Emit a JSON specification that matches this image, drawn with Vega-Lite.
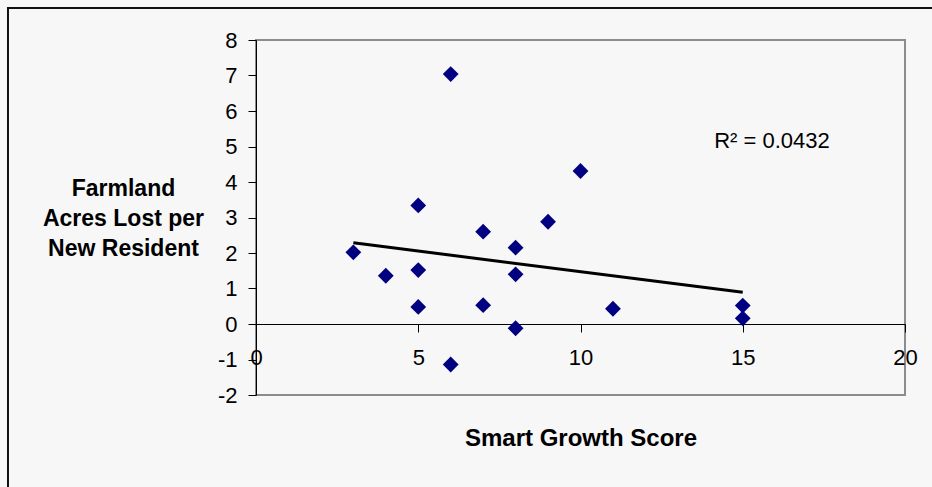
{
  "$schema": "https://vega.github.io/schema/vega-lite/v6.json",
  "width": 649,
  "height": 355,
  "autosize": {"type": "none"},
  "padding": {"left": 256, "top": 40, "right": 27, "bottom": 92},
  "background": "#f7f7f7",
  "config": {
    "view": {"stroke": "#8c8c8c", "strokeWidth": 2},
    "font": "Liberation Sans"
  },
  "datasets": {
    "pts": [
      {"score": 3, "acres": 2.02},
      {"score": 4, "acres": 1.36},
      {"score": 5, "acres": 3.34},
      {"score": 5, "acres": 1.52},
      {"score": 5, "acres": 0.48},
      {"score": 6, "acres": 7.04},
      {"score": 6, "acres": -1.14},
      {"score": 7, "acres": 2.6},
      {"score": 7, "acres": 0.53},
      {"score": 8, "acres": 2.15},
      {"score": 8, "acres": 1.4},
      {"score": 8, "acres": -0.12},
      {"score": 9, "acres": 2.88},
      {"score": 10, "acres": 4.31},
      {"score": 11, "acres": 0.43},
      {"score": 15, "acres": 0.52},
      {"score": 15, "acres": 0.16}
    ],
    "note": [{"label": "R² = 0.0432"}]
  },
  "layer": [
    {
      "data": {"name": "pts"},
      "mark": {"type": "point", "shape": "diamond", "filled": true, "color": "#000080", "size": 250, "opacity": 1},
      "encoding": {
        "x": {
          "field": "score",
          "type": "quantitative",
          "scale": {"domain": [0, 20], "nice": false},
          "axis": {
            "values": [0, 5, 10, 15, 20],
            "offset": -71,
            "grid": false,
            "domainColor": "#000000",
            "domainWidth": 1,
            "tickColor": "#000000",
            "tickSize": 8,
            "labelFontSize": 22,
            "labelColor": "#000000",
            "labelPadding": 15,
            "labelFlush": false,
            "labelOverlap": false,
            "labelExpr": "'' + datum.value",
            "title": "Smart Growth Score",
            "titleFontSize": 24,
            "titleFontWeight": "bold",
            "titleColor": "#000000",
            "titleBaseline": "alphabetic",
            "titleY": 121
          }
        },
        "y": {
          "field": "acres",
          "type": "quantitative",
          "scale": {"domain": [-2, 8], "nice": false},
          "axis": {
            "values": [-2, -1, 0, 1, 2, 3, 4, 5, 6, 7, 8],
            "tickCount": 11,
            "grid": false,
            "domainColor": "#000000",
            "domainWidth": 1,
            "tickColor": "#000000",
            "tickSize": 8,
            "labelFontSize": 22,
            "labelColor": "#000000",
            "labelPadding": 11,
            "labelFlush": false,
            "labelOverlap": false,
            "labelExpr": "'' + datum.value",
            "title": ["Farmland", "Acres Lost per", "New Resident"],
            "titleAngle": 0,
            "titleFontSize": 23,
            "titleFontWeight": "bold",
            "titleColor": "#000000",
            "titleAlign": "center",
            "titleBaseline": "middle",
            "titleLineHeight": 30,
            "titleX": -133,
            "titleY": 148
          }
        }
      }
    },
    {
      "data": {"name": "note"},
      "mark": {"type": "rect", "fill": null, "stroke": "#111111", "strokeWidth": 2, "clip": false},
      "encoding": {
        "x": {"datum": -7.643, "type": "quantitative", "axis": {"values": [0, 5, 10, 15, 20]}},
        "x2": {"datum": 40},
        "y": {"datum": 8.9, "type": "quantitative", "axis": {"values": [-2, -1, 0, 1, 2, 3, 4, 5, 6, 7, 8]}},
        "y2": {"datum": -20}
      }
    },
    {
      "data": {"name": "pts"},
      "transform": [{"regression": "acres", "on": "score"}],
      "mark": {"type": "line", "color": "#000000", "strokeWidth": 3},
      "encoding": {
        "x": {"field": "score", "type": "quantitative", "axis": {"values": [0, 5, 10, 15, 20]}},
        "y": {"field": "acres", "type": "quantitative", "axis": {"values": [-2, -1, 0, 1, 2, 3, 4, 5, 6, 7, 8]}}
      }
    },
    {
      "data": {"name": "note"},
      "mark": {"type": "text", "fontSize": 22, "align": "center", "baseline": "alphabetic", "color": "#000000"},
      "encoding": {
        "x": {"datum": 15.9, "type": "quantitative", "axis": {"values": [0, 5, 10, 15, 20]}},
        "y": {"datum": 4.97, "type": "quantitative", "axis": {"values": [-2, -1, 0, 1, 2, 3, 4, 5, 6, 7, 8]}},
        "text": {"field": "label"}
      }
    }
  ]
}
